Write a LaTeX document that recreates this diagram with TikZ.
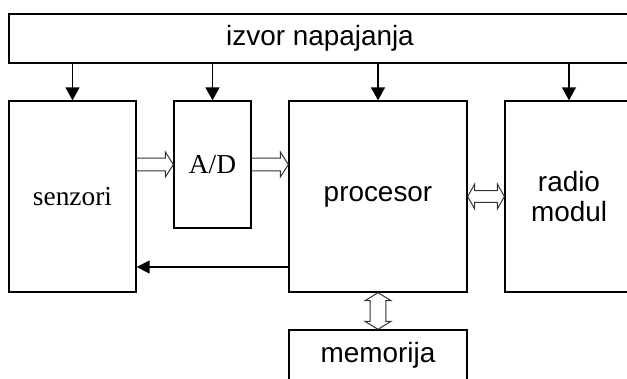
\documentclass[tikz,border=0pt]{standalone}
\usepackage{fontspec}
\setmainfont{Liberation Sans}
\newfontfamily\serifface{Liberation Serif}
\usetikzlibrary{arrows.meta,calc}
\begin{document}
\begin{tikzpicture}[x=1bp,y=-1bp,
  blk/.style={draw=black,line width=1.3bp,rectangle,inner sep=0pt,fill=white,
    font=\fontsize{28}{31}\selectfont,align=center},
  serifblk/.style={blk,font=\serifface\fontsize{27.5}{31}\selectfont},
  pwr/.style={line width=1.3bp,-{Triangle[length=13bp,width=14bp]}},
  fb/.style={line width=1.3bp,-{Triangle[length=13bp,width=13bp]}},
  hollowright/.style={line width=1bp,draw=black!80,line join=miter,to path={let \p1=(\tikztostart),\p2=(\tikztotarget) in
    (\x1,\y1+6.5pt) -- (\x2-8pt,\y1+6.5pt) -- (\x2-8pt,\y1+12.5pt) -- (\x2,\y1) -- (\x2-8pt,\y1-12.5pt) -- (\x2-8pt,\y1-6.5pt) -- (\x1,\y1-6.5pt)}},
  hollowboth/.style={line width=1bp,draw=black!80,line join=miter,to path={let \p1=(\tikztostart),\p2=(\tikztotarget) in
    (\x1,\y1) -- (\x1+7pt,\y1+12.5pt) -- (\x1+7pt,\y1+6pt) -- (\x2-7pt,\y1+6pt) -- (\x2-7pt,\y1+12.5pt) -- (\x2,\y1) -- (\x2-7pt,\y1-12.5pt) -- (\x2-7pt,\y1-6pt) -- (\x1+7pt,\y1-6pt) -- (\x1+7pt,\y1-12.5pt) -- cycle}},
  hollowvert/.style={line width=1bp,draw=black!80,line join=miter,to path={let \p1=(\tikztostart),\p2=(\tikztotarget) in
    (\x1,\y1) -- (\x1+13pt,\y1-8pt) -- (\x1+8pt,\y1-8pt) -- (\x1+8pt,\y2+8pt) -- (\x1+13pt,\y2+8pt) -- (\x1,\y2) -- (\x1-13pt,\y2+8pt) -- (\x1-8pt,\y2+8pt) -- (\x1-8pt,\y1-8pt) -- (\x1-13pt,\y1-8pt) -- cycle}}
]
\useasboundingbox (0,0) rectangle (627,378);
\clip (0,0) rectangle (627,378);
\fill[white] (0,0) rectangle (627,378);

\node[blk,minimum width=622bp,minimum height=49bp] (izvor) at (320,38.5) {izvor napajanja};
\node[serifblk,minimum width=127bp,minimum height=191bp] (sen) at (72.5,196.5) {senzori};
\node[serifblk,minimum width=77bp,minimum height=127bp] (ad) at (212.5,164.5) {A/D};
\node[blk,minimum width=178bp,minimum height=191bp] (proc) at (378,196.5) {procesor};
\node[blk,minimum width=128bp,minimum height=191bp] (radio) at (569,196.5) {radio\\modul};
\node[blk,minimum width=178bp,minimum height=50bp] (mem) at (378,355) {memorija};

\draw[pwr] (sen.north |- izvor.south) -- (sen.north);
\draw[pwr] (ad.north |- izvor.south) -- (ad.north);
\draw[pwr] (proc.north |- izvor.south) -- (proc.north);
\draw[pwr] (radio.north |- izvor.south) -- (radio.north);

\draw[hollowright] (sen.east |- ad.west) to (ad.west);
\draw[hollowright] (ad.east) to (proc.west |- ad.east);
\draw[hollowboth] (proc.east) to (radio.west |- proc.east);
\draw[hollowvert] (proc.south) to (mem.north);

\coordinate (fbstart) at ([yshift=-70.5bp]proc.west);
\draw[fb] (fbstart) -- (fbstart -| sen.east);
\end{tikzpicture}
\end{document}
